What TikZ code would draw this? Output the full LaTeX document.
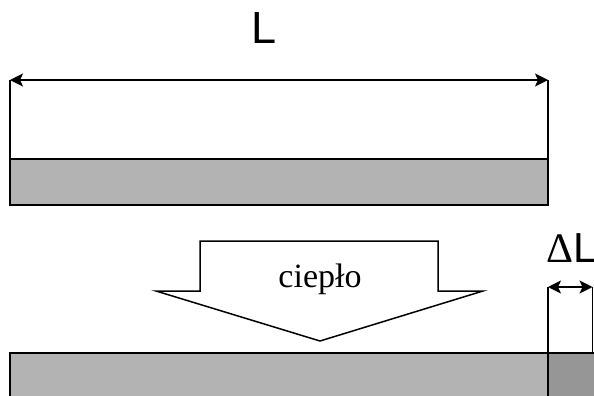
\documentclass[tikz,border=0pt]{standalone}
\usepackage{fontspec}
\setmainfont{Liberation Serif}
\newfontfamily\arialfont{Liberation Sans}
\usetikzlibrary{arrows.meta}
\definecolor{barlight}{HTML}{B3B3B3}
\definecolor{bardark}{HTML}{969696}
\tikzset{
  barline/.style={draw=black, line width=1.5pt},
  dimline/.style={draw=black, line width=1.5pt, {Stealth[length=13pt,width=13pt,inset=3pt]}-{Stealth[length=13pt,width=13pt,inset=3pt]}},
  extline/.style={draw=black, line width=1.5pt},
  bigsans/.style={font=\arialfont\fontsize{45}{45}\selectfont, inner sep=0pt},
  heatlabel/.style={font=\fontsize{34}{34}\selectfont, inner sep=0pt}
}
\begin{document}
\begin{tikzpicture}[x=1pt,y=-1pt]
\useasboundingbox (0,0) rectangle (594,396);
\clip (0,0) rectangle (594,396);
% top bar
\path[barline, fill=barlight] (10,159) rectangle (548,205);
\coordinate (tl) at (10,159);
\coordinate (tr) at (548,159);
\coordinate (al) at (10,80);
\coordinate (ar) at (548,80);
\draw[extline] (tl) -- (al);
\draw[extline] (tr) -- (ar);
\draw[dimline] (al) -- (ar);
\node[bigsans, anchor=base] (Llab) at (264,44) {L};
% heat arrow
\draw[line width=1.5pt, fill=white] (200,241) -- (438,241) -- (438,291) -- (483,291) -- (320,341) -- (156,291) -- (200,291) -- cycle;
\node[heatlabel, anchor=base] (heat) at (320,287) {ciepło};
% bottom bar
\path[barline, fill=barlight] (10,353) rectangle (548,400);
\path[barline, fill=bardark] (548,353) rectangle (600,400);
\coordinate (bl) at (548,353);
\coordinate (br) at (592.5,353);
\coordinate (dl) at (548,287);
\coordinate (dr) at (592.5,287);
\draw[extline] (bl) -- (dl);
\draw[extline] (br) -- (dr);
\draw[dimline] (dl) -- (dr);
\node[font=\fontsize{42}{42}\selectfont, inner sep=0pt, anchor=base west] (dL) at (546,262) {Δ\arialfont L};
\end{tikzpicture}
\end{document}
